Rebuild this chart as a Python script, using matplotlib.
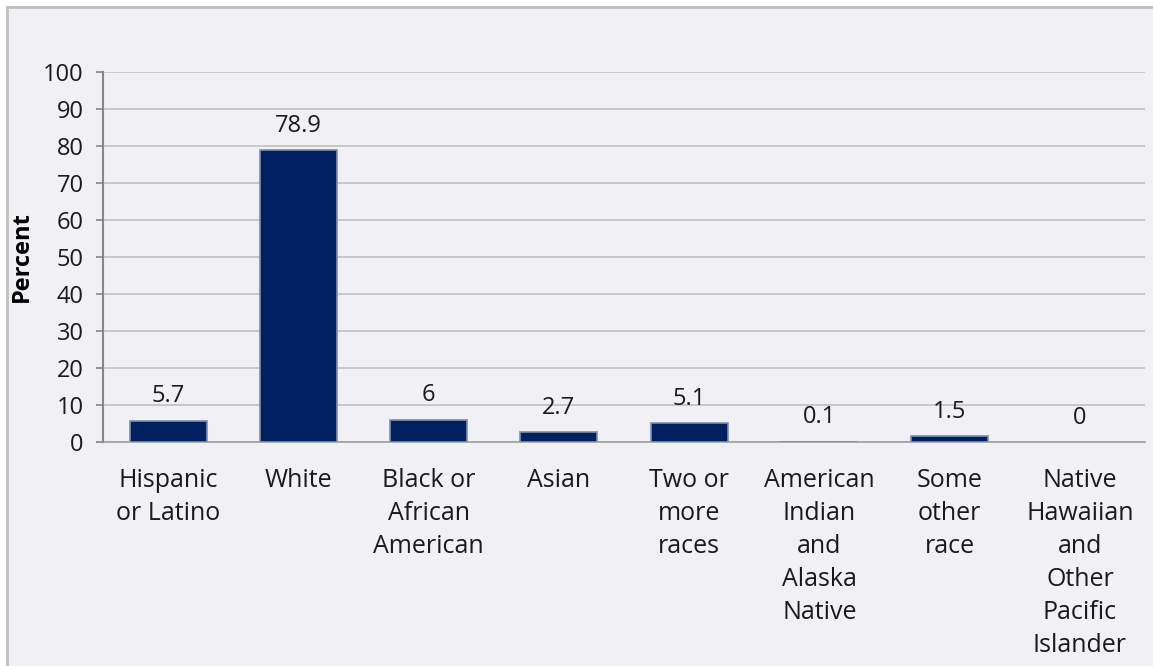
import numpy as np
import matplotlib
matplotlib.use('Agg')
import matplotlib.pyplot as plt
from matplotlib.patches import Rectangle

categories = ['Hispanic\nor Latino', 'White', 'Black or\nAfrican\nAmerican', 'Asian',
              'Two or\nmore\nraces', 'American\nIndian\nand\nAlaska\nNative',
              'Some\nother\nrace', 'Native\nHawaiian\nand\nOther\nPacific\nIslander']
values = [5.7, 78.9, 6, 2.7, 5.1, 0.1, 1.5, 0]
value_labels = ['5.7', '78.9', '6', '2.7', '5.1', '0.1', '1.5', '0']

plt.rcParams['font.family'] = ['Open Sans', 'DejaVu Sans']

fig = plt.figure(figsize=(11.53, 6.66), dpi=100)
fig.patch.set_facecolor('white')

# outer chart panel, drawn behind the axes
panel = Rectangle((7/1153, -0.05), 1.1, 1 - 7/666 + 0.05, transform=fig.transFigure,
                  facecolor='#f0f0f5', edgecolor='#bfbfbf', linewidth=2, zorder=-10)
fig.patches.append(panel)

ax = fig.add_axes([103/1153, 1 - 442/666, 1042/1153, 370/666])
ax.set_facecolor('none')

x = np.arange(len(categories))
# zero-height bars get no outline
edges = ['#7f8fb0' if v > 0 else 'none' for v in values]
ax.bar(x, values, width=0.59, color='#002060', edgecolor=edges, linewidth=1.2, zorder=3)

for xi, v, lab in zip(x, values, value_labels):
    ax.annotate(lab, (xi, v), xytext=(0, 9), textcoords='offset points',
                ha='center', va='bottom', fontsize=17, color='#1a1a1a')

ax.set_xlim(-0.5, len(categories) - 0.5)
ax.set_ylim(0, 100)
ax.set_yticks(np.arange(0, 101, 10))
ax.yaxis.grid(True, color='#c0c0c0', linewidth=1.2, zorder=0)
ax.set_axisbelow(True)

ax.set_xticks(x)
ax.set_xticklabels(categories, fontsize=18, linespacing=1.42, va='top', color='#1a1a1a')
ax.tick_params(axis='x', length=0, pad=19)
ax.tick_params(axis='y', length=5, width=1.2, color='#868686', labelsize=17, pad=9,
               labelcolor='#1a1a1a')

for s in ['top', 'right']:
    ax.spines[s].set_visible(False)
ax.spines['left'].set_color('#868686')
ax.spines['left'].set_linewidth(1.5)
ax.spines['bottom'].set_color('#a0a0a0')
ax.spines['bottom'].set_linewidth(1.2)
ax.spines['bottom'].set_zorder(2)

ax.set_ylabel('Percent', fontsize=17, fontweight='bold')
ax.yaxis.set_label_coords(-0.066, 0.5)

fig.savefig('out.png', dpi=100)
